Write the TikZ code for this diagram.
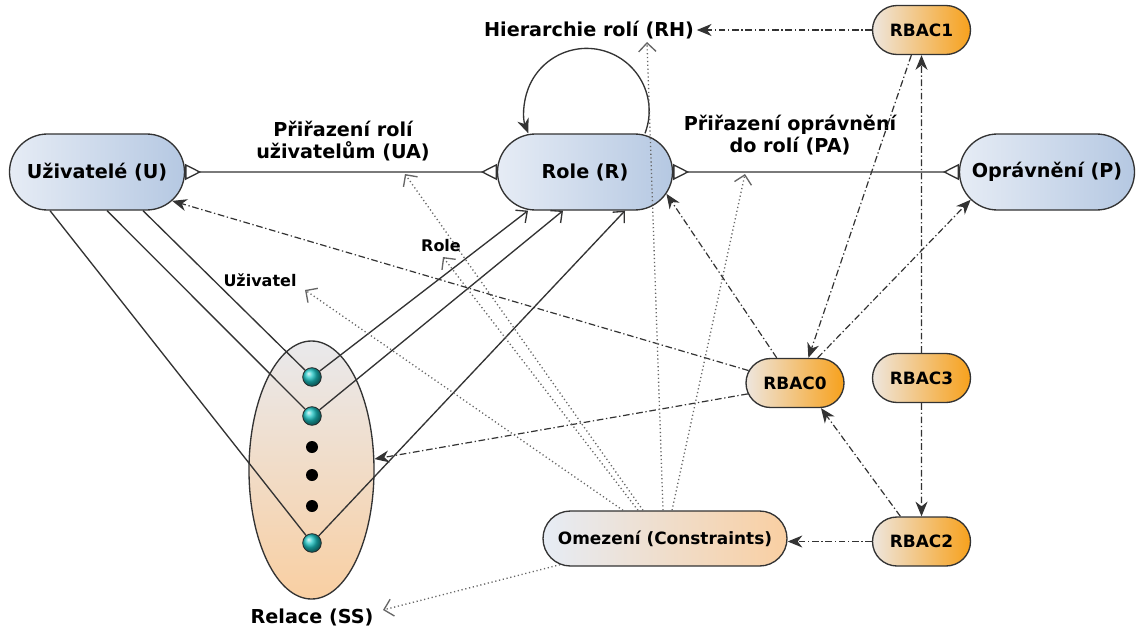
\documentclass[tikz,border=0pt]{standalone}
\usepackage{fontspec}
\setmainfont{DejaVu Sans}
\usetikzlibrary{arrows.meta,shapes.misc,shapes.geometric,calc}
\definecolor{bluel}{HTML}{E6ECF5}
\definecolor{blued}{HTML}{B5C8E2}
\definecolor{orl}{HTML}{EEE6DE}
\definecolor{ord}{HTML}{F7A11C}
\definecolor{peach}{HTML}{F9CFA2}
\definecolor{greyl}{HTML}{E9E9EC}
\definecolor{edgec}{HTML}{333333}
\definecolor{tealc}{HTML}{1CC4C4}
\begin{document}
\begin{tikzpicture}[x=0.75pt,y=-0.75pt,
  bigfont/.style={font=\fontsize{14.4}{17}\selectfont\bfseries},
  pill/.style={rounded rectangle, draw=edgec, line width=1pt, inner sep=0pt, align=center},
  entity/.style={pill, bigfont, minimum width=131.25pt, minimum height=57pt, left color=bluel, right color=blued},
  rbac/.style={pill, font=\fontsize{12.7}{15}\selectfont\bfseries, minimum width=73.5pt, minimum height=36.75pt, left color=orl, right color=ord},
  lbl/.style={bigfont, align=center, inner sep=2pt},
  smalllbl/.style={font=\fontsize{12}{14}\selectfont\bfseries, inner sep=1pt},
  solidl/.style={draw=edgec, line width=1pt},
  ddarrow/.style={draw=edgec, line width=0.9pt, dash pattern=on 5pt off 2pt on 1pt off 2pt, -{Stealth[length=11pt,width=9pt,inset=3.5pt]}},
  dotarrow/.style={draw=black!60, line width=1pt, dash pattern=on 0.9pt off 2pt, -{Straight Barb[length=6.5pt,width=13pt,line width=1pt]}},
  crowline/.style={{Triangle[open,reversed,length=12pt,width=12pt]}-{Triangle[open,reversed,length=12pt,width=12pt]}},
  vtip/.style={-{Straight Barb[length=6.5pt,width=12pt]}},
  tealball/.style={circle, inner sep=0pt, minimum size=14pt, ball color=tealc, draw=black!85, line width=0.6pt},
  bdot/.style={circle, inner sep=0pt, minimum size=9pt, fill=black},
]
\useasboundingbox (0,0) rectangle (1139,632);
\fill[white] (0,0) rectangle (1139,632);

% main nodes
\node[entity] (U) at (97,172) {Uživatelé (U)};
\node[entity] (R) at (585,172) {Role (R)};
\node[entity] (P) at (1047,172) {Oprávnění (P)};
\node[rbac] (RBAC1) at (921.5,30) {RBAC1};
\node[rbac] (RBAC0) at (795,383) {RBAC0};
\node[rbac] (RBAC3) at (921.5,378) {RBAC3};
\node[rbac] (RBAC2) at (921.5,541.5) {RBAC2};
\node[pill, font=\fontsize{12.7}{15}\selectfont\bfseries, minimum width=183pt, minimum height=41.25pt, left color=bluel, right color=peach] (C) at (665,538.5) {Omezení (Constraints)};
\node[ellipse, draw=edgec, line width=1pt, minimum width=93.75pt, minimum height=193.5pt, top color=greyl, bottom color=peach, inner sep=0pt] (SS) at (311.5,470) {};

% labels
\node[lbl] (RH) at (589,30) {Hierarchie rolí (RH)};
\node[lbl] (UA) at (343,141) {Přiřazení rolí\\uživatelům (UA)};
\node[lbl] (PA) at (790,135) {Přiřazení oprávnění\\do rolí (PA)};
\node[smalllbl] (RoleL) at (441,246) {Role};
\node[smalllbl] (UzL) at (260,280) {Uživatel};
\node[lbl] (SSL) at (312,617) {Relace (SS)};

% free ends of dotted arrows
\coordinate (tUz) at (305,290);
\coordinate (tRole) at (443,257);
\coordinate (tUA) at (405,174);
\coordinate (tRH) at (647,42);
\coordinate (tPA) at (745,174);
\coordinate (tSS) at (383,610);

% relations
\draw[solidl, crowline] (U) -- (R);
\draw[solidl, crowline] (R) -- (P);
\draw[solidl, -{Stealth[length=11pt,width=9pt,inset=3.5pt]}] ($(R.north)+(60,0)$) arc[start angle=-21, end angle=201, radius=46.9pt];

% dots in the session ellipse
\node[tealball] (d1) at (312,377) {};
\node[tealball] (d2) at (312,416) {};
\node[bdot] (e1) at (312,447) {};
\node[bdot] (e2) at (312,475) {};
\node[bdot] (e3) at (312,506) {};
\node[tealball] (d3) at (312,543) {};

\draw[solidl] ($(U.south)+(-47,0)$) -- (d3);
\draw[solidl] ($(U.south)+(10,0)$) -- (d2);
\draw[solidl] ($(U.south)+(46,0)$) -- (d1);
\draw[solidl, vtip] (d1) -- ($(R.south)+(-57,0)$);
\draw[solidl, vtip] (d2) -- ($(R.south)+(-22,0)$);
\draw[solidl, vtip] (d3) -- ($(R.south)+(40,0)$);

% RBAC dash-dot arrows
\draw[ddarrow] (RBAC1) -- (RH);
\draw[ddarrow] (RBAC1.-112) -- (RBAC0.62);
\draw[ddarrow] (RBAC3) -- (RBAC1);
\draw[ddarrow] (RBAC3) -- (RBAC2);
\draw[ddarrow] (RBAC0.126) -- (R.-15);
\draw[ddarrow] (RBAC0.48) -- (P.-160);
\draw[ddarrow] (RBAC0.165) -- (U.-21);
\draw[ddarrow] (RBAC0.193) -- (SS);
\draw[ddarrow] (RBAC2.130) -- (RBAC0.-44);
\draw[ddarrow] (RBAC2.west) -- (RBAC2.west -| C.east);

% constraints dotted arrows
\draw[dotarrow] ($(C.north)+(-42,0)$) -- (tUz);
\draw[dotarrow] ($(C.north)+(-27,0)$) -- (tRole);
\draw[dotarrow] ($(C.north)+(-22,0)$) -- (tUA);
\draw[dotarrow] ($(C.north)+(-2,0)$) -- (tRH);
\draw[dotarrow] ($(C.north)+(7,0)$) -- (tPA);
\draw[dotarrow] (C.-166) -- (tSS);
\end{tikzpicture}
\end{document}
